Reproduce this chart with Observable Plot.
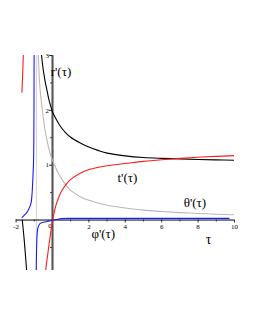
<!DOCTYPE html>
<html><head><meta charset="utf-8">
<script src="https://cdn.jsdelivr.net/npm/d3@7"></script>
<script src="https://cdn.jsdelivr.net/npm/@observablehq/plot@0.6"></script>
<style>html,body{margin:0;padding:0;background:#fff}svg{display:block}</style>
</head><body><div id="chart"></div>
<script>
// r'(τ) — black (null = break between branches)
const rTau = [-1.66,-1.6,-1.55,-1.5,-1.45,-1.4, null, -0.62,-0.6,-0.5,-0.4,-0.3,-0.2,-0.1,0,0.2,0.45,0.7,1,1.5,2,2.5,3,4,5,6,7,8,9,10];
const rVal = [0.0,-0.2,-0.38,-0.58,-0.8,-1.0, null, 3.1,3.0,2.72,2.52,2.36,2.2,2.08,1.97,1.84,1.7,1.6,1.51,1.41,1.33,1.27,1.22,1.17,1.14,1.125,1.115,1.105,1.097,1.09];
// t'(τ) — red
const tTau = [-1.68,-1.64,-1.6, null, -0.4,-0.3,-0.2,-0.1,0,0.1,0.2,0.35,0.5,0.75,1,1.5,2,3,4,5,6,7,8,9,10];
const tVal = [2.33,2.65,3.05, null, -0.98,-0.72,-0.47,-0.23,0,0.15,0.28,0.42,0.53,0.65,0.74,0.85,0.92,0.99,1.03,1.07,1.1,1.125,1.145,1.16,1.175];
// θ'(τ) — grey
const thTau = [-0.8,-0.75,-0.7,-0.6,-0.5,-0.4,-0.3,-0.2,-0.1,0,0.25,0.5,0.8,1,1.5,2,3,4,5,6,7,8,9,10];
const thVal = [3.2,2.75,2.45,2.12,1.85,1.62,1.45,1.3,1.18,1.09,0.9,0.75,0.61,0.54,0.43,0.36,0.27,0.22,0.18,0.155,0.135,0.12,0.105,0.095];
const thAsymptote = [-0.88];
// φ'(τ) — blue
const pTau = [-1.67,-1.55,-1.45,-1.35,-1.25,-1.18,-1.13,-1.1,-1.07,-1.04,-1.02,-1.01, null, -0.9,-0.88,-0.86,-0.83,-0.78,-0.7,-0.55,-0.35,-0.15,0,0.2,0.5,1,2,4,6,8,9.7];
const pVal = [0.05,0.09,0.12,0.17,0.24,0.31,0.45,0.61,0.82,1.09,1.8,3.2, null, -1.0,-0.6,-0.35,-0.2,-0.12,-0.07,-0.045,-0.03,-0.015,0,0.01,0.025,0.03,0.03,0.03,0.03,0.03,0.03];

// axes
const xMajor = [-2,0,2,4,6,8,10];
const xMinor = [-1,1,3,5,7,9];
const xTickLabels = ["-2","2","4","6","8","10"];
const xTickLabelPos = [-2,2,4,6,8,10];
const zeroLabel = ["0"];
const yMajor = [1,2,3];
const yMinor = [-0.5,0.5,1.5,2.5];
const yTickLabels = ["1","2","3"];

// curve labels
const labelText = ["r'(τ)","t'(τ)","θ'(τ)","φ'(τ)"];
const labelTau = [-0.1,3.57,7.21,2.14];
const labelVal = [2.70,0.77,0.31,-0.255];
const axisTitle = ["τ"];
const axisTitleTau = [8.57];
const axisTitleVal = [-0.35];

const pts = (ts, vs) => ts.map((t,i) => ({t, v: (t === null ? null : vs[i])}));
const serif = "Liberation Serif, Times New Roman, serif";

const chart = Plot.plot({
  width: 255, height: 330,
  marginLeft: 15.6, marginRight: 21, marginTop: 55, marginBottom: 60,
  x: {domain: [-2, 10], axis: null},
  y: {domain: [-0.92, 3], axis: null},
  style: {background: "white", fontFamily: serif},
  marks: [
    Plot.ruleX(thAsymptote, {x: d => d, stroke: "#d6d6d6", strokeWidth: 1.2}),
    Plot.ruleX([0], {stroke: "#a0a0a0", strokeWidth: 3}),
    Plot.ruleX([0], {stroke: "#444", strokeWidth: 0.8}),
    Plot.ruleY([0], {stroke: "#000", strokeWidth: 1}),
    Plot.ruleX(xMajor, {x: d => d, y1: 0, y2: 0, insetBottom: -3, stroke: "#000", strokeWidth: 0.8}),
    Plot.ruleX(xMinor, {x: d => d, y1: 0, y2: 0, insetBottom: -2, stroke: "#000", strokeWidth: 0.7}),
    Plot.ruleY(yMajor, {y: d => d, x1: 0, x2: 0, insetLeft: -3, stroke: "#000", strokeWidth: 0.8}),
    Plot.ruleY(yMinor, {y: d => d, x1: 0, x2: 0, insetLeft: -2, stroke: "#000", strokeWidth: 0.7}),
    Plot.text(xTickLabels, {x: (d,i) => xTickLabelPos[i], y: 0, text: d => d, dy: 7, fontSize: 7, fill: "#000"}),
    Plot.text(zeroLabel, {x: 0, y: 0, text: d => d, dy: 6, dx: -2.5, fontSize: 7, fill: "#000"}),
    Plot.text(yTickLabels, {x: 0, y: (d,i) => yMajor[i], text: d => d, dx: -3.5, textAnchor: "end", fontSize: 7, fill: "#000"}),
    Plot.line(pts(thTau, thVal), {x: "t", y: "v", stroke: "#b8b8b8", strokeWidth: 1.1, curve: "catmull-rom", clip: true}),
    Plot.line(pts(rTau, rVal), {x: "t", y: "v", stroke: "#000", strokeWidth: 1.1, curve: "catmull-rom", clip: true}),
    Plot.line(pts(tTau, tVal), {x: "t", y: "v", stroke: "#ff1a1a", strokeWidth: 1.1, curve: "catmull-rom", clip: true}),
    Plot.line(pts(pTau, pVal), {x: "t", y: "v", stroke: "#1a1aff", strokeWidth: 1.1, curve: "catmull-rom", clip: true}),
    Plot.text(labelText, {x: (d,i) => labelTau[i], y: (d,i) => labelVal[i], text: d => d, textAnchor: "start", fontSize: 13, fill: "#000"}),
    Plot.text(axisTitle, {x: (d,i) => axisTitleTau[i], y: (d,i) => axisTitleVal[i], text: d => d, fontSize: 14, fill: "#000"})
  ]
});
document.getElementById("chart").appendChild(chart);
</script>
</body></html>
